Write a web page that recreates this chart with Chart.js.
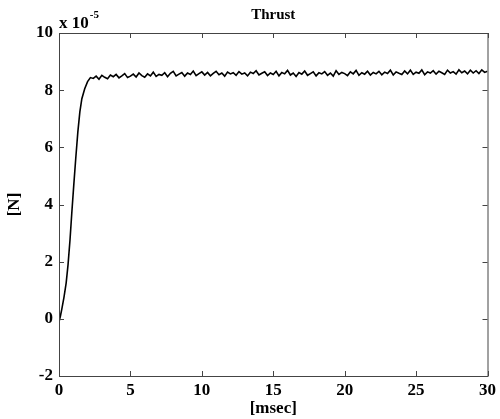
<!DOCTYPE html>
<html>
<head>
<meta charset="utf-8">
<script src="https://cdn.jsdelivr.net/npm/chart.js@4.4.0/dist/chart.umd.min.js"></script>
<style>
  html, body { margin: 0; padding: 0; background: #fff; }
  canvas { display: block; }
</style>
</head>
<body>
<canvas id="thrustChart" width="500" height="419"></canvas>
<script>
// time axis [msec]
const riseTime = [0, 0.1, 0.2, 0.35, 0.5, 0.63, 0.77, 0.9, 1.04, 1.18, 1.32, 1.46, 1.6, 1.8, 2.0, 2.2];
// thrust during rise [x 1e-5 N]
const riseThrust = [-0.1, 0.1, 0.35, 0.76, 1.25, 1.88, 2.76, 3.74, 4.72, 5.66, 6.54, 7.24, 7.7, 8.05, 8.3, 8.44];

const plateauTime = [
    2.4, 2.6, 2.8, 3.0, 3.2, 3.4, 3.6, 3.8, 4.0, 4.2,
    4.4, 4.6, 4.8, 5.0, 5.2, 5.4, 5.6, 5.8, 6.0, 6.2,
    6.4, 6.6, 6.8, 7.0, 7.2, 7.4, 7.6, 7.8, 8.0, 8.2,
    8.4, 8.6, 8.8, 9.0, 9.2, 9.4, 9.6, 9.8, 10.0, 10.2,
    10.4, 10.6, 10.8, 11.0, 11.2, 11.4, 11.6, 11.8, 12.0, 12.2,
    12.4, 12.6, 12.8, 13.0, 13.2, 13.4, 13.6, 13.8, 14.0, 14.2,
    14.4, 14.6, 14.8, 15.0, 15.2, 15.4, 15.6, 15.8, 16.0, 16.2,
    16.4, 16.6, 16.8, 17.0, 17.2, 17.4, 17.6, 17.8, 18.0, 18.2,
    18.4, 18.6, 18.8, 19.0, 19.2, 19.4, 19.6, 19.8, 20.0, 20.2,
    20.4, 20.6, 20.8, 21.0, 21.2, 21.4, 21.6, 21.8, 22.0, 22.2,
    22.4, 22.6, 22.8, 23.0, 23.2, 23.4, 23.6, 23.8, 24.0, 24.2,
    24.4, 24.6, 24.8, 25.0, 25.2, 25.4, 25.6, 25.8, 26.0, 26.2,
    26.4, 26.6, 26.8, 27.0, 27.2, 27.4, 27.6, 27.8, 28.0, 28.2,
    28.4, 28.6, 28.8, 29.0, 29.2, 29.4, 29.6, 29.8, 30.0
];
const plateauThrust = [
    8.41, 8.49, 8.38, 8.52, 8.45, 8.4, 8.53, 8.47, 8.55, 8.43,
    8.5, 8.58, 8.44, 8.49, 8.56, 8.46, 8.6, 8.51, 8.45, 8.57,
    8.5, 8.63, 8.48, 8.55, 8.52, 8.61, 8.47, 8.59, 8.66, 8.5,
    8.56, 8.62, 8.49, 8.6, 8.55, 8.67, 8.51, 8.58, 8.64, 8.53,
    8.62, 8.5, 8.59, 8.66, 8.54, 8.6, 8.49, 8.63, 8.57, 8.61,
    8.52, 8.65, 8.56, 8.6, 8.5, 8.63, 8.58, 8.68, 8.53, 8.59,
    8.64, 8.51, 8.6, 8.55, 8.66, 8.5, 8.62, 8.57, 8.69, 8.53,
    8.6, 8.48, 8.62, 8.56, 8.67, 8.52, 8.58, 8.64, 8.5, 8.61,
    8.57, 8.65, 8.52, 8.6, 8.49, 8.68, 8.55, 8.62, 8.58, 8.51,
    8.64, 8.57, 8.69, 8.52, 8.61, 8.56, 8.66, 8.53, 8.62, 8.57,
    8.66, 8.54, 8.63, 8.58, 8.7, 8.53, 8.64, 8.59, 8.55, 8.67,
    8.57, 8.7, 8.55, 8.63, 8.59, 8.71, 8.54, 8.64, 8.6, 8.68,
    8.56, 8.66, 8.61, 8.55, 8.7, 8.6, 8.65, 8.56, 8.71, 8.61,
    8.67, 8.57, 8.7, 8.6, 8.68, 8.58, 8.71, 8.62, 8.66
];

const xTicks = [0, 5, 10, 15, 20, 25, 30];
const yTicks = [-2, 0, 2, 4, 6, 8, 10];

const serif = "'Liberation Serif', 'Times New Roman', serif";

const times = riseTime.concat(plateauTime);
const thrust = riseThrust.concat(plateauThrust);
const points = times.map((t, i) => ({ x: t, y: thrust[i] }));

// matlab style box with inward ticks + the "x 10^-5" exponent
const boxPlugin = {
    id: "matlabBox",
    afterDraw(chart) {
        const { ctx, chartArea: a, scales } = chart;
        ctx.save();
        ctx.strokeStyle = "#444";
        ctx.lineWidth = 1;
        ctx.strokeRect(a.left + 0.5, a.top + 0.5, a.right - a.left, a.bottom - a.top);
        ctx.beginPath();
        xTicks.forEach(v => {
            const px = Math.round(scales.x.getPixelForValue(v)) + 0.5;
            ctx.moveTo(px, a.bottom); ctx.lineTo(px, a.bottom - 5);
            ctx.moveTo(px, a.top); ctx.lineTo(px, a.top + 5);
        });
        yTicks.forEach(v => {
            const py = Math.round(scales.y.getPixelForValue(v)) + 0.5;
            ctx.moveTo(a.left, py); ctx.lineTo(a.left + 5, py);
            ctx.moveTo(a.right, py); ctx.lineTo(a.right - 5, py);
        });
        ctx.stroke();

        ctx.fillStyle = "#000";
        ctx.textBaseline = "alphabetic";
        ctx.textAlign = "left";
        ctx.font = "bold 17px " + serif;
        ctx.fillText("x 10", a.left, 28);
        const w = ctx.measureText("x 10").width;
        ctx.font = "bold 11px " + serif;
        ctx.fillText("-5", a.left + w + 1, 18);
        ctx.restore();
    }
};

const ctx = document.getElementById("thrustChart").getContext("2d");
const thrustChart = new Chart(ctx, {
    type: "line",
    data: {
        datasets: [{
            label: "Thrust",
            data: points,
            borderColor: "#000",
            borderWidth: 1.6,
            pointRadius: 0,
            fill: false,
            tension: 0
        }]
    },
    options: {
        responsive: false,
        animation: false,
        devicePixelRatio: 1,
        layout: { padding: { left: 0, right: 10, top: 0, bottom: 0 } },
        plugins: {
            legend: { display: false },
            tooltip: { enabled: false },
            title: {
                display: true,
                text: "Thrust",
                fullSize: false,
                color: "#000",
                font: { family: serif, size: 15, weight: "bold", lineHeight: 1.2 },
                padding: { top: 6, bottom: 9 }
            }
        },
        scales: {
            x: {
                type: "linear",
                min: 0,
                max: 30,
                afterBuildTicks: scale => { scale.ticks = xTicks.map(v => ({ value: v })); },
                afterFit: scale => { scale.height = 43; },
                grid: { drawOnChartArea: false, drawTicks: false },
                border: { display: false },
                ticks: {
                    color: "#000",
                    padding: 4,
                    maxRotation: 0,
                    font: { family: serif, size: 17, weight: "bold" }
                },
                title: {
                    display: true,
                    text: "[msec]",
                    color: "#000",
                    padding: { top: 0, bottom: 0 },
                    font: { family: serif, size: 17, weight: "bold" }
                }
            },
            y: {
                type: "linear",
                min: -2,
                max: 10,
                afterBuildTicks: scale => { scale.ticks = yTicks.map(v => ({ value: v })); },
                afterFit: scale => { scale.width = 59; },
                grid: { drawOnChartArea: false, drawTicks: false },
                border: { display: false },
                ticks: {
                    color: "#000",
                    padding: 6,
                    font: { family: serif, size: 17, weight: "bold" }
                },
                title: {
                    display: true,
                    text: "[N]",
                    color: "#000",
                    padding: { top: 4, bottom: 0 },
                    font: { family: serif, size: 17, weight: "bold" }
                }
            }
        }
    },
    plugins: [boxPlugin]
});
</script>
</body>
</html>
